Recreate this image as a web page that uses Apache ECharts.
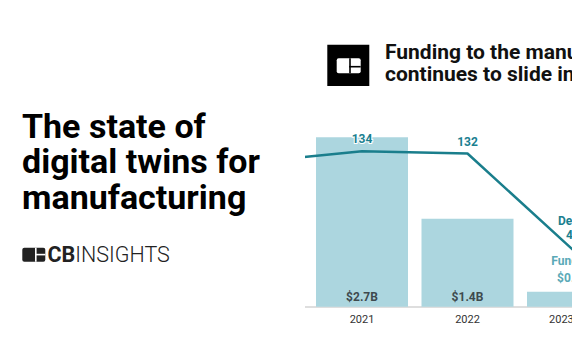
<!DOCTYPE html>
<html>
<head>
<meta charset="utf-8">
<script src="https://cdn.jsdelivr.net/npm/echarts@6/dist/echarts.min.js"></script>
<style>
  html, body { margin: 0; padding: 0; background: #fff; overflow: hidden; width: 572px; height: 364px; }
  #chart { position: absolute; left: 0; top: 0; width: 700px; height: 364px; }
</style>
</head>
<body>
<div id="chart"></div>
<script>
// ---- data ----
const categories = ['2020', '2021', '2022', '2023 YTD'];
const fundingB = [null, 2.7, 1.4, 0.24];   // $B, 2020 bar hidden behind the left panel
const deals = [125, 134, 132, 49];
const bannerTitleLines = ['The state of', 'digital twins for', 'manufacturing'];
const chartTitleLines = ['Funding to the manufacturing digital twin market', 'continues to slide in 2023'];

const FONT = 'Roboto, "Noto Sans", sans-serif';
const BAR = '#acd6df';
const LINE = '#1a7e8c';
const last = categories.length - 1;
const first = 0; // category hidden under the left panel

const chart = echarts.init(document.getElementById('chart'), null, { renderer: 'svg' });

const barData = fundingB.map((v, i) => {
  if (i === last) {
    return {
      value: v,
      label: {
        show: true, position: 'top', distance: 5,
        formatter: 'Funding\n$' + v.toFixed(1) + 'B',
        color: '#5aa9b7', fontSize: 12, fontWeight: 'bold', lineHeight: 17, fontFamily: FONT
      }
    };
  }
  return { value: v };
});

const lineData = deals.map((v, i) => {
  if (i === last) {
    return {
      value: v,
      label: { show: true, position: 'top', distance: 8, formatter: 'Deals\n' + v, lineHeight: 14 }
    };
  }
  if (i === first) {
    return { value: v, label: { show: false } };
  }
  return { value: v };
});

const graphics = [
  // white left panel
  { type: 'rect', z: 100, shape: { x: 0, y: 0, width: 305, height: 364 }, style: { fill: '#fff' } }
];
bannerTitleLines.forEach((t, i) => {
  graphics.push({
    type: 'text', z: 101, left: 22, top: 108.75 + i * 35.5,
    style: { text: t, font: 'bold 34px ' + FONT, fill: '#000', lineHeight: 34 }
  });
});
graphics.push(
  // CB Insights logo icon
  { type: 'rect', z: 101, shape: { x: 22.3, y: 247.7, width: 23, height: 14, r: 2 }, style: { fill: '#222' } },
  { type: 'rect', z: 102, shape: { x: 35, y: 247.7, width: 1.6, height: 14 }, style: { fill: '#fff' } },
  { type: 'rect', z: 102, shape: { x: 35, y: 253.8, width: 10.3, height: 1.6 }, style: { fill: '#fff' } },
  {
    type: 'text', z: 101, left: 47.5, top: 243.5,
    style: {
      text: '{b|CB}{l|INSIGHTS}',
      rich: {
        b: { font: 'bold 21.5px ' + FONT, fill: '#222' },
        l: { font: '300 21.5px ' + FONT, fill: '#222', letterSpacing: 0.3 }
      }
    }
  },
  // chart header icon
  { type: 'rect', z: 101, shape: { x: 327.3, y: 44.7, width: 42, height: 41.3 }, style: { fill: '#000' } },
  { type: 'rect', z: 102, shape: { x: 336.7, y: 58.3, width: 24, height: 15, r: 2 }, style: { fill: '#fff' } },
  { type: 'rect', z: 103, shape: { x: 349.2, y: 58.3, width: 1.6, height: 15 }, style: { fill: '#000' } },
  { type: 'rect', z: 103, shape: { x: 349.2, y: 65.9, width: 11.5, height: 1.6 }, style: { fill: '#000' } }
);
chartTitleLines.forEach((t, i) => {
  graphics.push({
    type: 'text', z: 101, left: 385, top: 41 + i * 22.7,
    style: { text: t, font: 'bold 21px ' + FONT, fill: '#111', lineHeight: 21 }
  });
});

chart.setOption({
  animation: false,
  backgroundColor: '#ffffff',
  grid: { left: 203.75, width: 422, top: 118.5, bottom: 57.3, containLabel: false },
  xAxis: {
    type: 'category',
    data: categories,
    boundaryGap: true,
    axisLine: { lineStyle: { color: '#d3d3d3', width: 1.5 } },
    axisTick: { show: false },
    axisLabel: {
      color: '#333', fontSize: 11, margin: 7, fontFamily: FONT,
      interval: (i) => i !== first
    }
  },
  yAxis: [
    { type: 'value', min: 0, max: 3, show: false, splitLine: { show: false } },
    { type: 'value', min: 0, max: 162.2, show: false, splitLine: { show: false } }
  ],
  series: [
    {
      type: 'bar',
      yAxisIndex: 0,
      data: barData,
      barWidth: 92,
      itemStyle: { color: BAR },
      label: {
        show: true, position: 'insideBottom', distance: 4,
        formatter: p => '$' + p.value.toFixed(1) + 'B',
        color: '#3e4a4e', fontSize: 12, fontWeight: 'bold', fontFamily: FONT
      }
    },
    {
      type: 'line',
      yAxisIndex: 1,
      data: lineData,
      symbol: 'circle',
      symbolSize: 0,
      showSymbol: true,
      lineStyle: { color: LINE, width: 2.5 },
      itemStyle: { color: LINE },
      label: {
        show: true, position: 'top', distance: 6,
        color: '#1a8090', fontSize: 12, fontWeight: 'bold', fontFamily: FONT,
        textBorderColor: '#fff', textBorderWidth: 2
      },
      z: 3
    }
  ],
  graphic: graphics
});
</script>
</body>
</html>
